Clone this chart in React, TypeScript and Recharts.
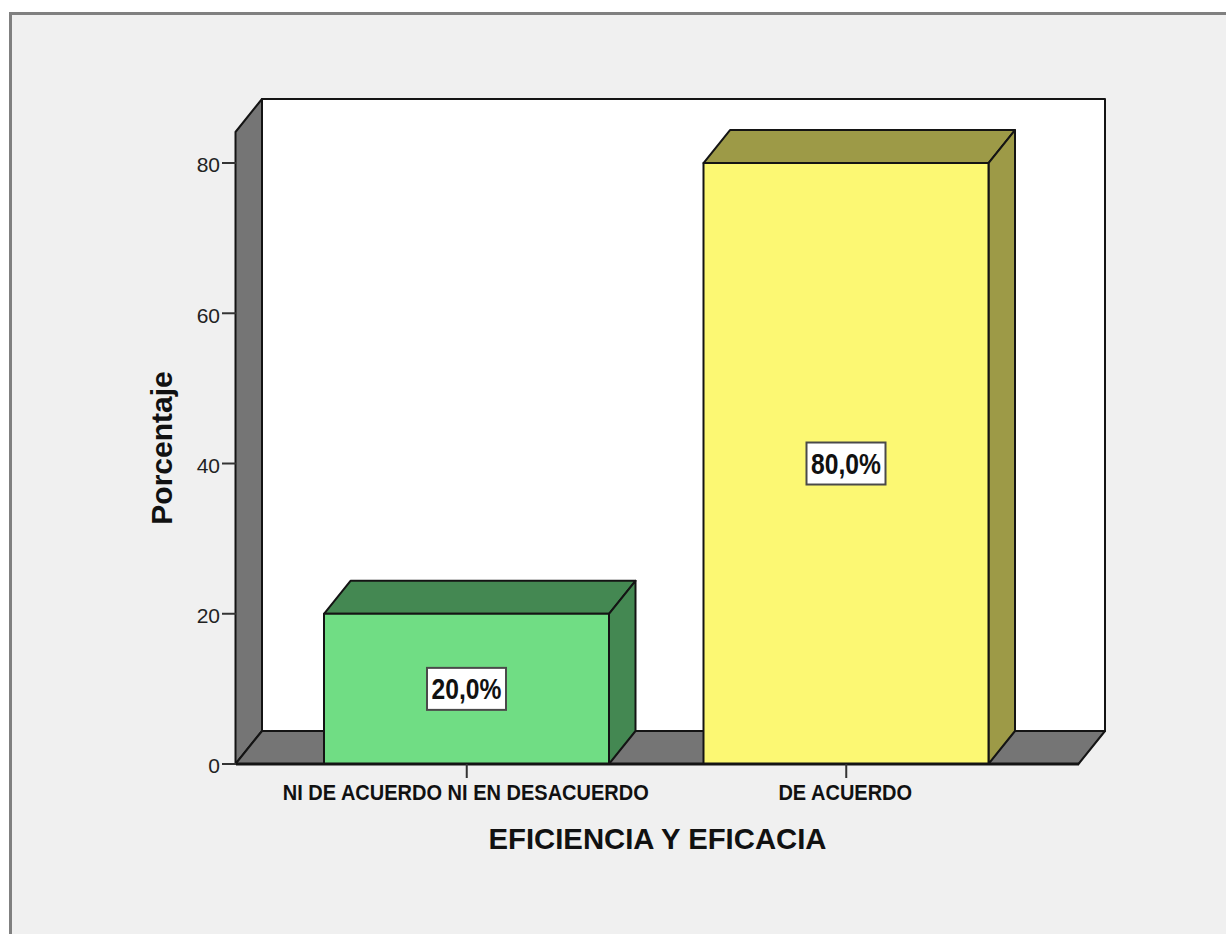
import { BarChart, Bar, XAxis, YAxis, ReferenceArea, LabelList } from 'recharts';

// Chart data
const categorias = ['NI DE ACUERDO NI EN DESACUERDO', 'DE ACUERDO'];
const porcentajes = [20, 80];
const etiquetas = ['20,0%', '80,0%'];
const marcasY = [0, 20, 40, 60, 80];

const frontColors = ['#70DD84', '#FCF873'];
const sideColors = ['#448852', '#9D9A47'];

const rows = categorias.map((categoria, i) => ({
    categoria,
    porcentaje: porcentajes[i],
    etiqueta: etiquetas[i],
}));

// Offset of the rear face in the fake 3D projection
const DEPTH_X = 26.5;
const DEPTH_Y = 33;
const PAD_LEFT = 41;
const PAD_RIGHT = 43;
const LINE = '#141414';
const FONT = '"Liberation Sans", Arial, sans-serif';

const pts = (list: number[][]) => list.map(p => p.join(',')).join(' ');

// Left wall, floor and back wall of the box. The reference area only spans the
// padded band range, so it is widened back out to the full plot.
const Walls = ({ x: bandX, y, width: bandWidth, height }: any) => {
    const x = bandX - PAD_LEFT - 0.5;
    const width = bandWidth + PAD_LEFT + PAD_RIGHT;
    const bottom = y + height;
    const right = x + width;
    return (
        <g stroke={LINE} strokeWidth={2} strokeLinejoin="round">
            <rect x={x + DEPTH_X} y={y - DEPTH_Y} width={width} height={height} fill="#fff" />
            <polygon
                fill="#757575"
                points={pts([[x, y], [x + DEPTH_X, y - DEPTH_Y], [x + DEPTH_X, bottom - DEPTH_Y], [x, bottom]])}
            />
            <polygon
                fill="#757575"
                points={pts([[x, bottom], [x + DEPTH_X, bottom - DEPTH_Y], [right + DEPTH_X, bottom - DEPTH_Y], [right, bottom]])}
            />
        </g>
    );
};

const Bar3D = ({ x, y, width, height, index }: any) => {
    const right = x + width;
    const bottom = y + height;
    return (
        <g stroke={LINE} strokeWidth={2} strokeLinejoin="round">
            <polygon
                fill={sideColors[index]}
                points={pts([[x, y], [x + DEPTH_X, y - DEPTH_Y], [right + DEPTH_X, y - DEPTH_Y], [right, y]])}
            />
            <polygon
                fill={sideColors[index]}
                points={pts([[right, y], [right + DEPTH_X, y - DEPTH_Y], [right + DEPTH_X, bottom - DEPTH_Y], [right, bottom]])}
            />
            <rect x={x} y={y} width={width} height={height} fill={frontColors[index]} />
        </g>
    );
};

// Liberation Sans squeezed horizontally, stands in for the narrow bold face
const NarrowText = ({ x, y, squeeze, size, children }: any) => (
    <text
        transform={`translate(${x},${y}) scale(${squeeze},1)`}
        textAnchor="middle"
        fontFamily={FONT}
        fontWeight="bold"
        fontSize={size}
        fill="#111"
    >
        {children}
    </text>
);

const CategoryTick = ({ x, y, payload }: any) => (
    <NarrowText x={x - 1} y={y + 20} squeeze={0.91} size={22}>
        {payload.value}
    </NarrowText>
);

// White boxed value label in the middle of the bar
const ValueBox = ({ x, y, width, height, value }: any) => {
    const cx = x + width / 2;
    const cy = y + height / 2;
    return (
        <g>
            <rect x={cx - 39.5} y={cy - 21} width={79} height={42} fill="#fff" stroke="#4a4a4a" strokeWidth={2} />
            <NarrowText x={cx} y={cy + 10} squeeze={0.85} size={29}>
                {value}
            </NarrowText>
        </g>
    );
};

const App = () => (
    <div style={{ position: 'absolute', left: 0, top: 0, width: 1226, height: 934, background: '#fff', overflow: 'hidden' }}>
        <div
            style={{
                position: 'absolute',
                left: 9,
                top: 12,
                width: 1217,
                height: 922,
                boxSizing: 'border-box',
                background: '#F0F0F0',
                borderTop: '3px solid #808080',
                borderLeft: '3px solid #808080',
            }}
        />
        <div style={{ position: 'absolute', left: 0, top: 0 }}>
            <BarChart
                width={1226}
                height={934}
                data={rows}
                barSize={285}
                margin={{ top: 132, right: 147, bottom: 0, left: 0 }}
            >
                <ReferenceArea y1={0} y2={84.13} ifOverflow="visible" shape={<Walls />} />
                <XAxis
                    dataKey="categoria"
                    height={170}
                    padding={{ left: PAD_LEFT, right: PAD_RIGHT }}
                    interval={0}
                    axisLine={{ stroke: LINE, strokeWidth: 3 }}
                    tickSize={14}
                    tickLine={{ stroke: '#333', strokeWidth: 2 }}
                    tick={<CategoryTick />}
                    label={{
                        value: 'EFICIENCIA Y EFICACIA',
                        position: 'insideTop',
                        offset: 64,
                        fontFamily: FONT,
                        fontWeight: 'bold',
                        fontSize: 29.3,
                        fill: '#111',
                    }}
                />
                <YAxis
                    width={236}
                    domain={[0, 84.13]}
                    ticks={marcasY}
                    axisLine={false}
                    tickSize={14}
                    tickLine={{ stroke: '#333', strokeWidth: 2 }}
                    tick={{ fontFamily: FONT, fontSize: 21, fill: '#222', dy: 2 }}
                    label={{
                        value: 'Porcentaje',
                        angle: -90,
                        position: 'insideLeft',
                        offset: 161,
                        textAnchor: 'middle',
                        fontFamily: FONT,
                        fontWeight: 'bold',
                        fontSize: 30,
                        fill: '#111',
                    }}
                />
                <Bar dataKey="porcentaje" shape={<Bar3D />} isAnimationActive={false}>
                    <LabelList dataKey="etiqueta" content={<ValueBox />} />
                </Bar>
            </BarChart>
        </div>
    </div>
);

export default App;
